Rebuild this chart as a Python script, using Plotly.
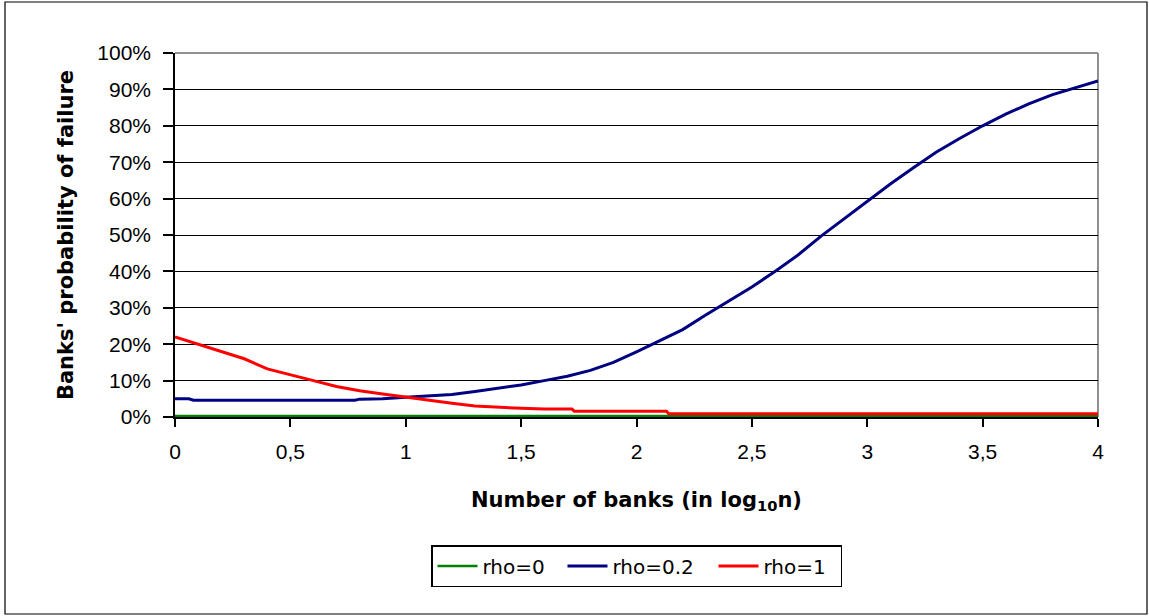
import plotly.graph_objects as go

# ---- data ----
x_ticks = [0, 0.5, 1, 1.5, 2, 2.5, 3, 3.5, 4]
x_tick_labels = ["0", "0,5", "1", "1,5", "2", "2,5", "3", "3,5", "4"]
y_ticks = [0, 0.1, 0.2, 0.3, 0.4, 0.5, 0.6, 0.7, 0.8, 0.9, 1.0]
y_tick_labels = ["0%", "10%", "20%", "30%", "40%", "50%", "60%", "70%", "80%", "90%", "100%"]

x_rho0 = [0, 1, 2, 3, 4]
y_rho0 = [0.003, 0.003, 0.003, 0.003, 0.003]

x_rho02 = [0.0, 0.06, 0.08, 0.2, 0.3, 0.4, 0.5, 0.6, 0.7, 0.78, 0.8, 0.9, 1.0,
           1.1, 1.2, 1.3, 1.4, 1.5, 1.6, 1.7, 1.8, 1.9, 2.0, 2.1, 2.2, 2.3,
           2.4, 2.5, 2.6, 2.7, 2.8, 2.9, 3.0, 3.1, 3.2, 3.3, 3.4, 3.5, 3.6,
           3.7, 3.8, 3.9, 4.0]
y_rho02 = [0.050, 0.050, 0.046, 0.046, 0.046, 0.046, 0.046, 0.046, 0.046, 0.046,
           0.049, 0.050, 0.054, 0.058, 0.062, 0.070, 0.078, 0.088, 0.100, 0.112,
           0.128, 0.150, 0.179, 0.210, 0.240, 0.280, 0.318, 0.357, 0.400, 0.445,
           0.497, 0.545, 0.593, 0.640, 0.685, 0.728, 0.765, 0.800, 0.832, 0.860,
           0.885, 0.905, 0.923]

x_rho1 = [0.0, 0.1, 0.2, 0.3, 0.4, 0.5, 0.6, 0.7, 0.8, 0.9, 1.0, 1.1, 1.2, 1.3,
          1.4, 1.5, 1.6, 1.72, 1.73, 2.13, 2.14, 3.0, 4.0]
y_rho1 = [0.220, 0.200, 0.180, 0.160, 0.132, 0.115, 0.100, 0.084, 0.072, 0.063,
          0.054, 0.045, 0.038, 0.030, 0.026, 0.024, 0.022, 0.022, 0.016, 0.016,
          0.009, 0.009, 0.009]

FONT = "Liberation Sans, Arial, sans-serif"
TFONT = "DejaVu Sans, Liberation Sans, sans-serif"

fig = go.Figure()
fig.add_trace(go.Scatter(x=x_rho0, y=y_rho0, mode="lines", name="rho=0",
                         line=dict(color="#008000", width=2.5), legendwidth=75))
fig.add_trace(go.Scatter(x=x_rho02, y=y_rho02, mode="lines", name="rho=0.2",
                         line=dict(color="#000080", width=3), legendwidth=96))
fig.add_trace(go.Scatter(x=x_rho1, y=y_rho1, mode="lines", name="rho=1",
                         line=dict(color="#FF0000", width=3), legendwidth=72))

L, R, T, B = 175, 51, 53, 199
W, H = 1149, 616
pw, ph = W - L - R, H - T - B

def px_x(p):
    return (p - L) / pw

def px_y(p):
    return (H - B - p) / ph

fig.update_layout(
    width=W, height=H,
    margin=dict(l=L, r=R, t=T, b=B),
    paper_bgcolor="white", plot_bgcolor="white",
    font=dict(family=FONT, size=21, color="black"),
    showlegend=True,
    legend=dict(orientation="h", x=0.5, xanchor="center",
                y=px_y(545), yanchor="top",
                bordercolor="black", borderwidth=1.5,
                font=dict(size=20, family=TFONT, color="black"),
                itemwidth=40, traceorder="normal"),
    xaxis=dict(range=[0, 4], tickvals=x_ticks, ticktext=x_tick_labels,
               showgrid=False, zeroline=False,
               showline=True, linecolor="black", linewidth=1.5,
               ticks="outside", ticklen=8, tickwidth=1.5, tickcolor="black",
               ticklabelstandoff=7,
               title=dict(text="<b>Number of banks (in log<sub>10</sub>n)</b>",
                          font=dict(size=21, family=TFONT), standoff=30)),
    yaxis=dict(range=[0, 1], tickvals=y_ticks, ticktext=y_tick_labels,
               showgrid=True, gridcolor="black", gridwidth=1,
               zeroline=False,
               showline=True, linecolor="black", linewidth=1.5,
               ticks="outside", ticklen=10, tickwidth=1.5, tickcolor="black",
               ticklabelstandoff=8,
               title=dict(text="<b>Banks' probability of failure</b>",
                          font=dict(size=21, family=TFONT), standoff=18)),
    shapes=[
        dict(type="line", xref="paper", yref="paper", x0=0, x1=1, y0=1, y1=1,
             line=dict(color="#909090", width=2), layer="above"),
        dict(type="line", xref="paper", yref="paper", x0=1, x1=1, y0=0, y1=1,
             line=dict(color="#909090", width=2), layer="below"),
        dict(type="rect", xref="paper", yref="paper",
             x0=px_x(5), x1=px_x(1147), y0=px_y(614), y1=px_y(2),
             line=dict(color="black", width=1.2), layer="below"),
    ],
)

fig.write_html("out.html", config={"displayModeBar": False},
               post_script="document.body.style.margin='0px';document.body.style.padding='0px';")
